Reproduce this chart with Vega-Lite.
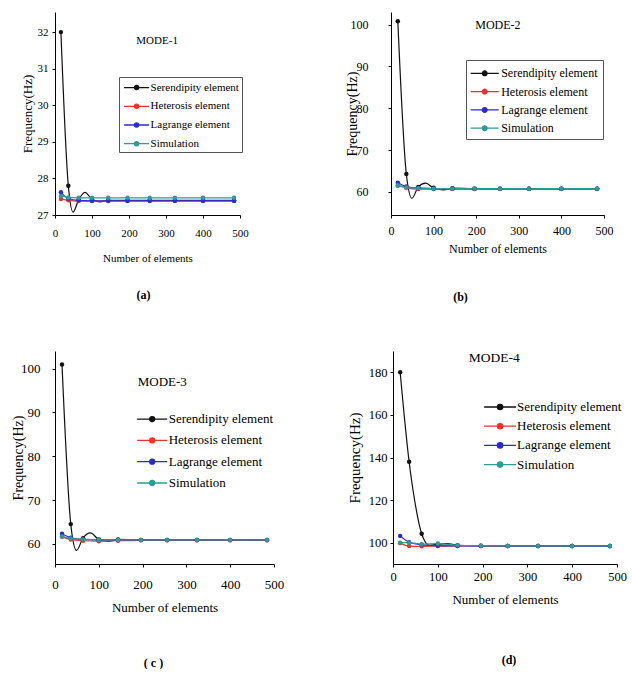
{
  "$schema": "https://vega.github.io/schema/vega-lite/v6.json",
  "padding": {"left": 11, "top": 12, "right": 0, "bottom": 0},
  "config": {
    "font": "Liberation Serif",
    "view": {"stroke": null},
    "axis": {"grid": false, "labelFlush": false, "domainColor": "#000", "tickColor": "#000", "labelColor": "#000", "titleColor": "#000", "titleFontWeight": "normal", "labelFont": "Liberation Serif", "titleFont": "Liberation Serif", "tickSize": 3, "domainWidth": 1},
    "legend": {"labelFont": "Liberation Serif", "labelColor": "#000"},
    "title": {"font": "Liberation Serif", "fontWeight": "bold", "fontSize": 12, "color": "#000"}
  },
  "datasets": {
    "mode1": [
      {"n": 16, "series": "Serendipity element", "f": 32.0}, {"n": 36, "series": "Serendipity element", "f": 27.8}, {"n": 49, "series": "Serendipity element", "f": 27.08}, {"n": 64, "series": "Serendipity element", "f": 27.42}, {"n": 81, "series": "Serendipity element", "f": 27.62}, {"n": 100, "series": "Serendipity element", "f": 27.43}, {"n": 121, "series": "Serendipity element", "f": 27.36}, {"n": 144, "series": "Serendipity element", "f": 27.4}, {"n": 196, "series": "Serendipity element", "f": 27.4}, {"n": 256, "series": "Serendipity element", "f": 27.4}, {"n": 324, "series": "Serendipity element", "f": 27.4}, {"n": 400, "series": "Serendipity element", "f": 27.4}, {"n": 484, "series": "Serendipity element", "f": 27.4},
      {"n": 16, "series": "Heterosis element", "f": 27.44}, {"n": 36, "series": "Heterosis element", "f": 27.4}, {"n": 64, "series": "Heterosis element", "f": 27.38}, {"n": 100, "series": "Heterosis element", "f": 27.38}, {"n": 144, "series": "Heterosis element", "f": 27.38}, {"n": 196, "series": "Heterosis element", "f": 27.38}, {"n": 256, "series": "Heterosis element", "f": 27.38}, {"n": 324, "series": "Heterosis element", "f": 27.38}, {"n": 400, "series": "Heterosis element", "f": 27.38}, {"n": 484, "series": "Heterosis element", "f": 27.38},
      {"n": 16, "series": "Lagrange element", "f": 27.62}, {"n": 36, "series": "Lagrange element", "f": 27.45}, {"n": 64, "series": "Lagrange element", "f": 27.4}, {"n": 100, "series": "Lagrange element", "f": 27.39}, {"n": 144, "series": "Lagrange element", "f": 27.39}, {"n": 196, "series": "Lagrange element", "f": 27.39}, {"n": 256, "series": "Lagrange element", "f": 27.39}, {"n": 324, "series": "Lagrange element", "f": 27.39}, {"n": 400, "series": "Lagrange element", "f": 27.39}, {"n": 484, "series": "Lagrange element", "f": 27.39},
      {"n": 16, "series": "Simulation", "f": 27.52}, {"n": 36, "series": "Simulation", "f": 27.48}, {"n": 64, "series": "Simulation", "f": 27.47}, {"n": 100, "series": "Simulation", "f": 27.47}, {"n": 144, "series": "Simulation", "f": 27.47}, {"n": 196, "series": "Simulation", "f": 27.47}, {"n": 256, "series": "Simulation", "f": 27.47}, {"n": 324, "series": "Simulation", "f": 27.47}, {"n": 400, "series": "Simulation", "f": 27.47}, {"n": 484, "series": "Simulation", "f": 27.47}
    ],
    "mode2": [
      {"n": 16, "series": "Serendipity element", "f": 100.8}, {"n": 36, "series": "Serendipity element", "f": 64.3}, {"n": 49, "series": "Serendipity element", "f": 58.5}, {"n": 64, "series": "Serendipity element", "f": 61.2}, {"n": 81, "series": "Serendipity element", "f": 62.1}, {"n": 100, "series": "Serendipity element", "f": 61.0}, {"n": 121, "series": "Serendipity element", "f": 60.5}, {"n": 144, "series": "Serendipity element", "f": 60.9}, {"n": 196, "series": "Serendipity element", "f": 60.8}, {"n": 256, "series": "Serendipity element", "f": 60.8}, {"n": 324, "series": "Serendipity element", "f": 60.8}, {"n": 400, "series": "Serendipity element", "f": 60.8}, {"n": 484, "series": "Serendipity element", "f": 60.8},
      {"n": 16, "series": "Heterosis element", "f": 61.5}, {"n": 36, "series": "Heterosis element", "f": 61.0}, {"n": 64, "series": "Heterosis element", "f": 60.7}, {"n": 100, "series": "Heterosis element", "f": 60.7}, {"n": 144, "series": "Heterosis element", "f": 60.7}, {"n": 196, "series": "Heterosis element", "f": 60.7}, {"n": 256, "series": "Heterosis element", "f": 60.7}, {"n": 324, "series": "Heterosis element", "f": 60.7}, {"n": 400, "series": "Heterosis element", "f": 60.7}, {"n": 484, "series": "Heterosis element", "f": 60.7},
      {"n": 16, "series": "Lagrange element", "f": 62.2}, {"n": 36, "series": "Lagrange element", "f": 61.3}, {"n": 64, "series": "Lagrange element", "f": 60.9}, {"n": 100, "series": "Lagrange element", "f": 60.8}, {"n": 144, "series": "Lagrange element", "f": 60.8}, {"n": 196, "series": "Lagrange element", "f": 60.8}, {"n": 256, "series": "Lagrange element", "f": 60.8}, {"n": 324, "series": "Lagrange element", "f": 60.8}, {"n": 400, "series": "Lagrange element", "f": 60.8}, {"n": 484, "series": "Lagrange element", "f": 60.8},
      {"n": 16, "series": "Simulation", "f": 61.6}, {"n": 36, "series": "Simulation", "f": 61.1}, {"n": 64, "series": "Simulation", "f": 60.9}, {"n": 100, "series": "Simulation", "f": 60.8}, {"n": 144, "series": "Simulation", "f": 60.8}, {"n": 196, "series": "Simulation", "f": 60.8}, {"n": 256, "series": "Simulation", "f": 60.8}, {"n": 324, "series": "Simulation", "f": 60.8}, {"n": 400, "series": "Simulation", "f": 60.8}, {"n": 484, "series": "Simulation", "f": 60.8}
    ],
    "mode3": [
      {"n": 16, "series": "Serendipity element", "f": 100.9}, {"n": 36, "series": "Serendipity element", "f": 64.5}, {"n": 49, "series": "Serendipity element", "f": 58.5}, {"n": 64, "series": "Serendipity element", "f": 61.3}, {"n": 81, "series": "Serendipity element", "f": 62.5}, {"n": 100, "series": "Serendipity element", "f": 61.0}, {"n": 121, "series": "Serendipity element", "f": 60.6}, {"n": 144, "series": "Serendipity element", "f": 61.0}, {"n": 196, "series": "Serendipity element", "f": 60.9}, {"n": 256, "series": "Serendipity element", "f": 60.9}, {"n": 324, "series": "Serendipity element", "f": 60.9}, {"n": 400, "series": "Serendipity element", "f": 60.9}, {"n": 484, "series": "Serendipity element", "f": 60.9},
      {"n": 16, "series": "Heterosis element", "f": 61.6}, {"n": 36, "series": "Heterosis element", "f": 61.0}, {"n": 64, "series": "Heterosis element", "f": 60.7}, {"n": 100, "series": "Heterosis element", "f": 60.6}, {"n": 144, "series": "Heterosis element", "f": 60.7}, {"n": 196, "series": "Heterosis element", "f": 60.8}, {"n": 256, "series": "Heterosis element", "f": 60.8}, {"n": 324, "series": "Heterosis element", "f": 60.8}, {"n": 400, "series": "Heterosis element", "f": 60.8}, {"n": 484, "series": "Heterosis element", "f": 60.8},
      {"n": 16, "series": "Lagrange element", "f": 62.3}, {"n": 36, "series": "Lagrange element", "f": 61.4}, {"n": 64, "series": "Lagrange element", "f": 61.0}, {"n": 100, "series": "Lagrange element", "f": 60.9}, {"n": 144, "series": "Lagrange element", "f": 60.9}, {"n": 196, "series": "Lagrange element", "f": 60.9}, {"n": 256, "series": "Lagrange element", "f": 60.9}, {"n": 324, "series": "Lagrange element", "f": 60.9}, {"n": 400, "series": "Lagrange element", "f": 60.9}, {"n": 484, "series": "Lagrange element", "f": 60.9},
      {"n": 16, "series": "Simulation", "f": 61.7}, {"n": 36, "series": "Simulation", "f": 61.2}, {"n": 64, "series": "Simulation", "f": 61.0}, {"n": 100, "series": "Simulation", "f": 60.9}, {"n": 144, "series": "Simulation", "f": 60.9}, {"n": 196, "series": "Simulation", "f": 60.9}, {"n": 256, "series": "Simulation", "f": 60.9}, {"n": 324, "series": "Simulation", "f": 60.9}, {"n": 400, "series": "Simulation", "f": 60.9}, {"n": 484, "series": "Simulation", "f": 60.9}
    ],
    "mode4": [
      {"n": 16, "series": "Serendipity element", "f": 180.0}, {"n": 36, "series": "Serendipity element", "f": 138.0}, {"n": 49, "series": "Serendipity element", "f": 119.0}, {"n": 64, "series": "Serendipity element", "f": 104.2}, {"n": 81, "series": "Serendipity element", "f": 98.8}, {"n": 100, "series": "Serendipity element", "f": 99.3}, {"n": 121, "series": "Serendipity element", "f": 99.6}, {"n": 144, "series": "Serendipity element", "f": 98.8}, {"n": 196, "series": "Serendipity element", "f": 98.6}, {"n": 256, "series": "Serendipity element", "f": 98.5}, {"n": 324, "series": "Serendipity element", "f": 98.5}, {"n": 400, "series": "Serendipity element", "f": 98.5}, {"n": 484, "series": "Serendipity element", "f": 98.5},
      {"n": 16, "series": "Heterosis element", "f": 99.8}, {"n": 36, "series": "Heterosis element", "f": 98.4}, {"n": 64, "series": "Heterosis element", "f": 98.3}, {"n": 100, "series": "Heterosis element", "f": 98.4}, {"n": 144, "series": "Heterosis element", "f": 98.5}, {"n": 196, "series": "Heterosis element", "f": 98.5}, {"n": 256, "series": "Heterosis element", "f": 98.5}, {"n": 324, "series": "Heterosis element", "f": 98.5}, {"n": 400, "series": "Heterosis element", "f": 98.5}, {"n": 484, "series": "Heterosis element", "f": 98.5},
      {"n": 16, "series": "Lagrange element", "f": 103.2}, {"n": 36, "series": "Lagrange element", "f": 100.2}, {"n": 64, "series": "Lagrange element", "f": 99.0}, {"n": 100, "series": "Lagrange element", "f": 98.6}, {"n": 144, "series": "Lagrange element", "f": 98.5}, {"n": 196, "series": "Lagrange element", "f": 98.5}, {"n": 256, "series": "Lagrange element", "f": 98.5}, {"n": 324, "series": "Lagrange element", "f": 98.5}, {"n": 400, "series": "Lagrange element", "f": 98.5}, {"n": 484, "series": "Lagrange element", "f": 98.5},
      {"n": 16, "series": "Simulation", "f": 100.0}, {"n": 36, "series": "Simulation", "f": 100.0}, {"n": 64, "series": "Simulation", "f": 99.3}, {"n": 100, "series": "Simulation", "f": 99.6}, {"n": 144, "series": "Simulation", "f": 98.8}, {"n": 196, "series": "Simulation", "f": 98.6}, {"n": 256, "series": "Simulation", "f": 98.5}, {"n": 324, "series": "Simulation", "f": 98.5}, {"n": 400, "series": "Simulation", "f": 98.5}, {"n": 484, "series": "Simulation", "f": 98.5}
    ]
  },
  "spacing": 48,
  "resolve": {"scale": {"x": "independent", "y": "independent"}, "legend": {"color": "independent"}},
  "vconcat": [
    {
      "spacing": 96,
      "resolve": {"scale": {"x": "independent", "y": "independent"}, "legend": {"color": "independent"}},
      "hconcat": [
        {
          "width": 185, "height": 203,
          "data": {"name": "mode1"},
          "title": {"text": "(a)", "orient": "bottom", "anchor": "middle", "dx": -4, "offset": 27},
          "encoding": {
            "x": {"field": "n", "type": "quantitative", "scale": {"domain": [0, 500], "nice": false}, "axis": {"title": "Number of elements", "values": [0, 100, 200, 300, 400, 500], "labelFontSize": 11, "titleFontSize": 11, "labelPadding": 9, "titlePadding": 14}},
            "y": {"field": "f", "type": "quantitative", "scale": {"domain": [27, 32.55], "nice": false, "zero": false}, "axis": {"title": "Frequency(Hz)", "values": [27, 28, 29, 30, 31, 32], "labelFontSize": 11, "titleFontSize": 13, "labelPadding": 4, "titlePadding": 3}},
            "color": {"field": "series", "type": "nominal",
               "scale": {"domain": ["Serendipity element", "Heterosis element", "Lagrange element", "Simulation"], "range": ["#111111", "#f0302a", "#2a2ad8", "#2c9c94"]},
               "legend": {"title": null, "orient": "none", "legendX": 64, "legendY": 65, "strokeColor": "#555", "padding": 2.6, "symbolOffset": 7, "symbolType": "M-1.8,0L1.8,0M-0.3,0A0.3,0.3,0,1,0,0.3,0A0.3,0.3,0,1,0,-0.3,0Z", "symbolSize": 193, "symbolStrokeWidth": 1.3, "rowPadding": 5.7, "labelFont": "Liberation Serif", "labelFontSize": 11, "labelOffset": 6}}
          },
          "layer": [
            {"mark": {"type": "line", "interpolate": "monotone", "strokeWidth": 1.2}},
            {"transform": [{"filter": "datum.n % 2 == 0"}],
             "mark": {"type": "point", "filled": true, "size": 20, "opacity": 1}},
            {"transform": [{"filter": "datum.n == 16 && datum.series == 'Simulation'"}],
             "mark": {"type": "text", "fontSize": 11, "font": "Liberation Serif", "color": "#000"},
             "encoding": {"x": {"datum": 276, "type": "quantitative"}, "y": {"datum": 31.75, "type": "quantitative"}, "text": {"value": "MODE-1"}, "color": {"value": "#000"}}}
          ]
        },
        {
          "width": 213, "height": 203,
          "data": {"name": "mode2"},
          "title": {"text": "(b)", "orient": "bottom", "anchor": "middle", "dx": -37, "offset": 38},
          "encoding": {
            "x": {"field": "n", "type": "quantitative", "scale": {"domain": [0, 500], "nice": false}, "axis": {"title": "Number of elements", "values": [0, 100, 200, 300, 400, 500], "labelFontSize": 12, "titleFontSize": 12, "labelPadding": 7, "titlePadding": 7}},
            "y": {"field": "f", "type": "quantitative", "scale": {"domain": [54.5, 103], "nice": false, "zero": false}, "axis": {"title": "Frequency(Hz)", "values": [60, 70, 80, 90, 100], "labelFontSize": 12, "titleFontSize": 14, "labelPadding": 20, "titlePadding": -9}},
            "color": {"field": "series", "type": "nominal",
               "legend": {"title": null, "orient": "none", "legendX": 75, "legendY": 48, "strokeColor": "#555", "padding": 4.8, "symbolOffset": 5.4, "symbolType": "M-1.8,0L1.8,0M-0.3,0A0.3,0.3,0,1,0,0.3,0A0.3,0.3,0,1,0,-0.3,0Z", "symbolSize": 243, "symbolStrokeWidth": 1.3, "rowPadding": 3.3, "labelFont": "Liberation Serif", "labelFontSize": 12, "labelOffset": 8}}
          },
          "layer": [
            {"mark": {"type": "line", "interpolate": "monotone", "strokeWidth": 1.2}},
            {"transform": [{"filter": "datum.n % 2 == 0"}],
             "mark": {"type": "point", "filled": true, "size": 20, "opacity": 1}},
            {"transform": [{"filter": "datum.n == 16 && datum.series == 'Simulation'"}],
             "mark": {"type": "text", "fontSize": 12, "font": "Liberation Serif", "color": "#000"},
             "encoding": {"x": {"datum": 251, "type": "quantitative"}, "y": {"datum": 99.8, "type": "quantitative"}, "text": {"value": "MODE-2"}, "color": {"value": "#000"}}}
          ]
        }
      ]
    },
    {
      "spacing": 63,
      "resolve": {"scale": {"x": "independent", "y": "independent"}, "legend": {"color": "independent"}},
      "hconcat": [
        {
          "width": 219, "height": 213,
          "data": {"name": "mode3"},
          "title": {"text": "( c )", "orient": "bottom", "anchor": "middle", "dx": -11, "offset": 44},
          "encoding": {
            "x": {"field": "n", "type": "quantitative", "scale": {"domain": [0, 500], "nice": false}, "axis": {"title": "Number of elements", "values": [0, 100, 200, 300, 400, 500], "labelFontSize": 13, "titleFontSize": 13, "labelPadding": 11, "titlePadding": 10}},
            "y": {"field": "f", "type": "quantitative", "scale": {"domain": [55.4, 104], "nice": false, "zero": false}, "axis": {"title": "Frequency(Hz)", "values": [60, 70, 80, 90, 100], "labelFontSize": 13, "titleFontSize": 14, "labelPadding": 12, "titlePadding": -5}},
            "color": {"field": "series", "type": "nominal",
               "legend": {"title": null, "orient": "none", "legendX": 81, "legendY": 58.6, "padding": 0, "symbolOffset": 6.7, "symbolType": "M-1.8,0L1.8,0M-0.3,0A0.3,0.3,0,1,0,0.3,0A0.3,0.3,0,1,0,-0.3,0Z", "symbolSize": 279, "symbolStrokeWidth": 1.3, "rowPadding": 4.3, "labelFont": "Liberation Serif", "labelFontSize": 13, "labelOffset": 7}}
          },
          "layer": [
            {"mark": {"type": "line", "interpolate": "monotone", "strokeWidth": 1.2}},
            {"transform": [{"filter": "datum.n % 2 == 0"}],
             "mark": {"type": "point", "filled": true, "size": 20, "opacity": 1}},
            {"transform": [{"filter": "datum.n == 16 && datum.series == 'Simulation'"}],
             "mark": {"type": "text", "fontSize": 13, "font": "Liberation Serif", "color": "#000"},
             "encoding": {"x": {"datum": 245, "type": "quantitative"}, "y": {"datum": 97, "type": "quantitative"}, "text": {"value": "MODE-3"}, "color": {"value": "#000"}}}
          ]
        },
        {
          "width": 224, "height": 213,
          "data": {"name": "mode4"},
          "title": {"text": "(d)", "orient": "bottom", "anchor": "middle", "dx": 4, "offset": 48},
          "encoding": {
            "x": {"field": "n", "type": "quantitative", "scale": {"domain": [0, 500], "nice": false}, "axis": {"title": "Number of elements", "values": [0, 100, 200, 300, 400, 500], "labelFontSize": 12.5, "titleFontSize": 13, "labelPadding": 3, "titlePadding": 11}},
            "y": {"field": "f", "type": "quantitative", "scale": {"domain": [90, 190], "nice": false, "zero": false}, "axis": {"title": "Frequency(Hz)", "values": [100, 120, 140, 160, 180], "labelFontSize": 12.5, "titleFontSize": 15, "labelPadding": 3, "titlePadding": 6}},
            "color": {"field": "series", "type": "nominal",
               "legend": {"title": null, "orient": "none", "legendX": 90, "legendY": 46, "padding": 0, "symbolOffset": 7.1, "symbolType": "M-1.8,0L1.8,0M-0.3,0A0.3,0.3,0,1,0,0.3,0A0.3,0.3,0,1,0,-0.3,0Z", "symbolSize": 316, "symbolStrokeWidth": 1.3, "rowPadding": 2.2, "labelFont": "Liberation Serif", "labelFontSize": 13, "labelOffset": 7}}
          },
          "layer": [
            {"mark": {"type": "line", "interpolate": "monotone", "strokeWidth": 1.2}},
            {"transform": [{"filter": "datum.n % 2 == 0"}],
             "mark": {"type": "point", "filled": true, "size": 20, "opacity": 1}},
            {"transform": [{"filter": "datum.n == 16 && datum.series == 'Simulation'"}],
             "mark": {"type": "text", "fontSize": 13.5, "font": "Liberation Serif", "color": "#000"},
             "encoding": {"x": {"datum": 226, "type": "quantitative"}, "y": {"datum": 186.5, "type": "quantitative"}, "text": {"value": "MODE-4"}, "color": {"value": "#000"}}}
          ]
        }
      ]
    }
  ]
}
